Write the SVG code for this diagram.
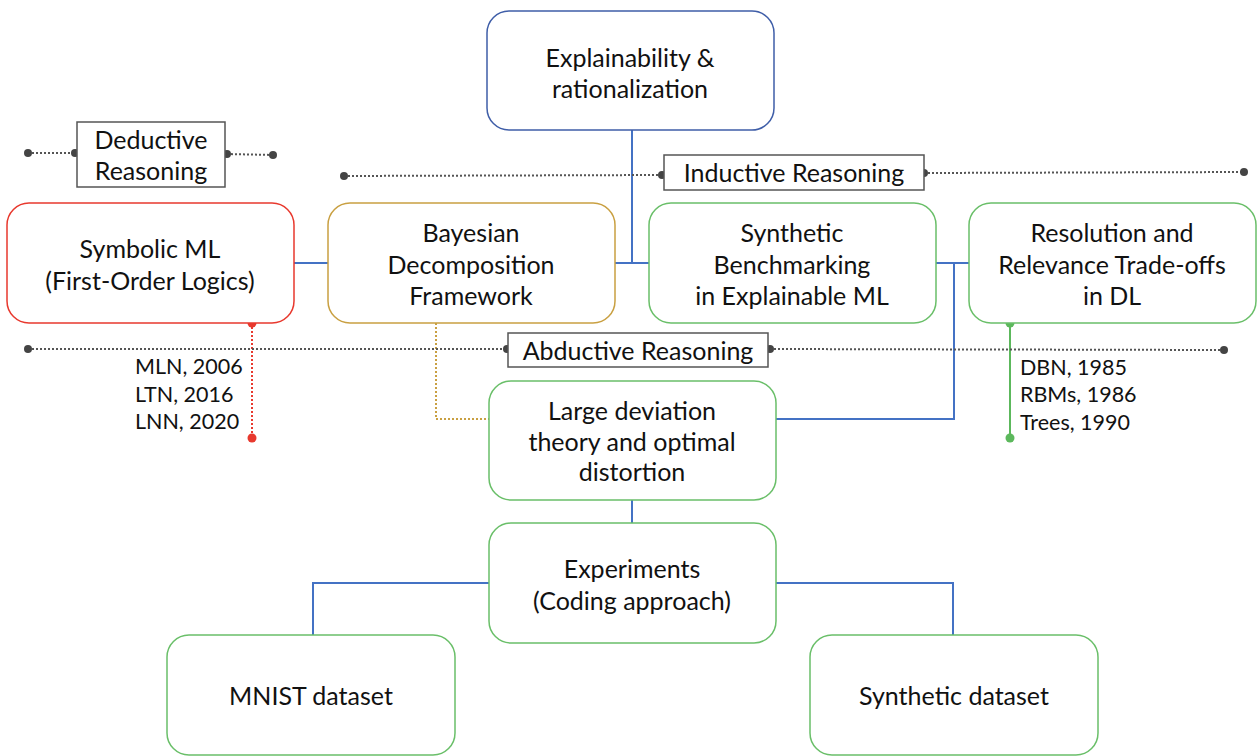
<svg xmlns="http://www.w3.org/2000/svg" width="1257" height="756" viewBox="0 0 1257 756">
<defs>
<style>
text{font-family:Lato,"Liberation Sans",sans-serif;font-size:25px;fill:#111;text-anchor:middle}
.sm{font-size:21.5px;text-anchor:start}
.node{fill:#fff;stroke-width:1.5}
.blue{stroke:#3f5ea8}
.red{stroke:#e8392e}
.gold{stroke:#c9a042}
.green{stroke:#6abf69}
.lbl{fill:#fff;stroke:#555;stroke-width:1.5}
.con{fill:none;stroke:#4472c4;stroke-width:2}
.dot{fill:none;stroke:#555;stroke-width:2;stroke-dasharray:2 2}
.dd{fill:#444}
</style>
</defs>
<rect width="1257" height="756" fill="#fff"/>
<g id="connectors">
<path class="con" d="M632 130V263M615 263H649"/>
<path class="con" d="M294 263H328"/>
<path class="con" d="M936 263H969M954 263V419H776"/>
<path class="con" d="M632 500V523"/>
<path class="con" d="M489 583H313V635"/>
<path class="con" d="M776 583H953V635"/>
<path d="M436 323V419H489" fill="none" stroke="#c9a042" stroke-width="2" stroke-dasharray="2 2"/>
<path d="M252 323V438" fill="none" stroke="#e8392e" stroke-width="2" stroke-dasharray="2 2"/>
<circle cx="252" cy="323" r="4.5" fill="#e8392e"/>
<circle cx="252" cy="438" r="4.5" fill="#e8392e"/>
<path d="M1010 323V438" fill="none" stroke="#5cb85c" stroke-width="2"/>
<circle cx="1010" cy="323" r="4.5" fill="#5cb85c"/>
<circle cx="1010" cy="438" r="4.5" fill="#5cb85c"/>
<path class="dot" d="M28 153H75M227 154L273 155"/>
<circle class="dd" cx="28" cy="153" r="4"/><circle class="dd" cx="75" cy="153" r="4"/>
<circle class="dd" cx="227" cy="154" r="4"/><circle class="dd" cx="273" cy="155" r="4"/>
<path class="dot" d="M344 176L662 175M924 173L1244 172"/>
<circle class="dd" cx="344" cy="176" r="4"/><circle class="dd" cx="662" cy="175" r="4"/>
<circle class="dd" cx="924" cy="173" r="4"/><circle class="dd" cx="1244" cy="172" r="4"/>
<path class="dot" d="M28 349H507M770 349L1224 350"/>
<circle class="dd" cx="28" cy="349" r="4"/><circle class="dd" cx="507" cy="349" r="4"/>
<circle class="dd" cx="770" cy="349" r="4"/><circle class="dd" cx="1224" cy="350" r="4"/>
</g>
<g id="deductive"><rect class="lbl" x="77" y="122" width="148" height="65"/><text x="151" y="149">Deductive</text><text x="151" y="180">Reasoning</text></g>
<g id="inductive"><rect class="lbl" x="664" y="155" width="260" height="35"/><text x="794" y="182">Inductive Reasoning</text></g>
<g id="abductive"><rect class="lbl" x="508" y="333" width="260" height="34"/><text x="638" y="360">Abductive Reasoning</text></g>
<g id="explainability"><rect class="node blue" x="487" y="11" width="287" height="119" rx="22"/><text x="630" y="67">Explainability &amp;</text><text x="630" y="98">rationalization</text></g>
<g id="symbolic"><rect class="node red" x="7" y="203" width="287" height="120" rx="22"/><text x="150" y="258">Symbolic ML</text><text x="150" y="290">(First-Order Logics)</text></g>
<g id="bayesian"><rect class="node gold" x="328" y="203" width="287" height="120" rx="22"/><text x="471" y="242">Bayesian</text><text x="471" y="274">Decomposition</text><text x="471" y="305">Framework</text></g>
<g id="synthetic-bench"><rect class="node green" x="649" y="203" width="287" height="120" rx="22"/><text x="792" y="242">Synthetic</text><text x="792" y="274">Benchmarking</text><text x="792" y="305">in Explainable ML</text></g>
<g id="resolution"><rect class="node green" x="969" y="203" width="287" height="120" rx="22"/><text x="1112" y="242">Resolution and</text><text x="1112" y="274">Relevance Trade-offs</text><text x="1112" y="305">in DL</text></g>
<g id="large-deviation"><rect class="node green" x="489" y="381" width="287" height="119" rx="22"/><text x="632" y="420">Large deviation</text><text x="632" y="451">theory and optimal</text><text x="632" y="481">distortion</text></g>
<g id="experiments"><rect class="node green" x="489" y="523" width="287" height="120" rx="22"/><text x="632" y="578">Experiments</text><text x="632" y="610">(Coding approach)</text></g>
<g id="mnist"><rect class="node green" x="167" y="635" width="288" height="120" rx="22"/><text x="311" y="705">MNIST dataset</text></g>
<g id="synthetic-dataset"><rect class="node green" x="810" y="635" width="288" height="120" rx="22"/><text x="954" y="705">Synthetic dataset</text></g>
<g id="symbolic-notes"><text class="sm" x="135" y="374">MLN, 2006</text><text class="sm" x="135" y="402">LTN, 2016</text><text class="sm" x="135" y="429">LNN, 2020</text></g>
<g id="dl-notes"><text class="sm" x="1020" y="375">DBN, 1985</text><text class="sm" x="1020" y="402">RBMs, 1986</text><text class="sm" x="1020" y="430">Trees, 1990</text></g>
</svg>
